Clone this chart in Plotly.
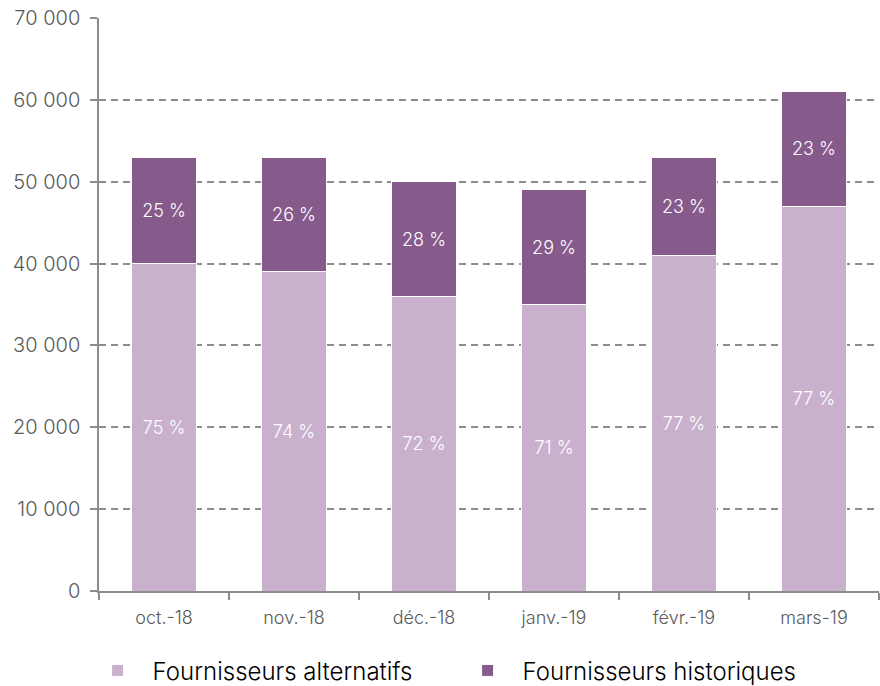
import plotly.graph_objects as go

# Monthly counts by supplier type
months = ["oct.-18", "nov.-18", "déc.-18", "janv.-19", "févr.-19", "mars-19"]
alternatifs = [40000, 39000, 36000, 35000, 41000, 47000]
historiques = [13000, 14000, 14000, 14000, 12000, 14000]

y_ticks = [0, 10000, 20000, 30000, 40000, 50000, 60000, 70000]
y_tick_text = ["0", "10 000", "20 000", "30 000", "40 000", "50 000", "60 000", "70 000"]

totals = [a + h for a, h in zip(alternatifs, historiques)]
pct_alt = [f"{round(100 * a / t)} %" for a, t in zip(alternatifs, totals)]
pct_hist = [f"{100 - round(100 * a / t)} %" for a, t in zip(alternatifs, totals)]

LIGHT = "#C9B1CE"
DARK = "#875A8C"
GREY_TXT = "#595959"
AXIS = "#8C8C8C"
FONT = "Inter"

fig = go.Figure()
fig.add_trace(go.Bar(
    x=months, y=alternatifs, name="Fournisseurs alternatifs",
    marker=dict(color=LIGHT, line=dict(color="white", width=1)),
    text=pct_alt, textposition="inside", insidetextanchor="middle",
    textfont=dict(color="white", size=18, family=FONT, weight=300),
    hoverinfo="x+y",
))
fig.add_trace(go.Bar(
    x=months, y=historiques, name="Fournisseurs historiques",
    marker=dict(color=DARK, line=dict(color="white", width=1)),
    text=pct_hist, textposition="inside", insidetextanchor="middle",
    textfont=dict(color="white", size=18, family=FONT, weight=300),
    hoverinfo="x+y",
))

fig.update_layout(
    barmode="stack",
    bargap=0.5,
    width=880, height=686,
    margin=dict(l=99, r=1, t=18, b=95, autoexpand=False),
    paper_bgcolor="white",
    plot_bgcolor="white",
    font=dict(family=FONT, color=GREY_TXT, size=18),
    uniformtext=dict(minsize=10, mode="show"),
    legend=dict(
        orientation="h", traceorder="normal",
        x=-0.021, xref="paper", y=-0.1, yanchor="top",
        font=dict(color="black", size=24, family=FONT, weight=300),
        itemwidth=60,
        entrywidth=295,
    ),
    xaxis=dict(
        type="category", tickson="boundaries", ticks="outside",
        ticklen=7, tickcolor=AXIS, tickwidth=1.5,
        showline=True, linecolor=AXIS, linewidth=1.5,
        showgrid=False,
        tickfont=dict(color=GREY_TXT, size=18, family=FONT, weight=300),
        ticklabelstandoff=10,
    ),
    yaxis=dict(
        range=[0, 70000], tickvals=y_ticks, ticktext=y_tick_text,
        ticks="outside", ticklen=7, tickcolor=AXIS, tickwidth=1.5,
        showline=True, linecolor=AXIS, linewidth=1.5,
        showgrid=True, gridcolor=AXIS, gridwidth=1.5, griddash="7px,5px",
        zeroline=False,
        tickfont=dict(color=GREY_TXT, size=20, family=FONT, weight=300),
        ticklabelstandoff=6,
    ),
)

fig.write_html("out.html")
